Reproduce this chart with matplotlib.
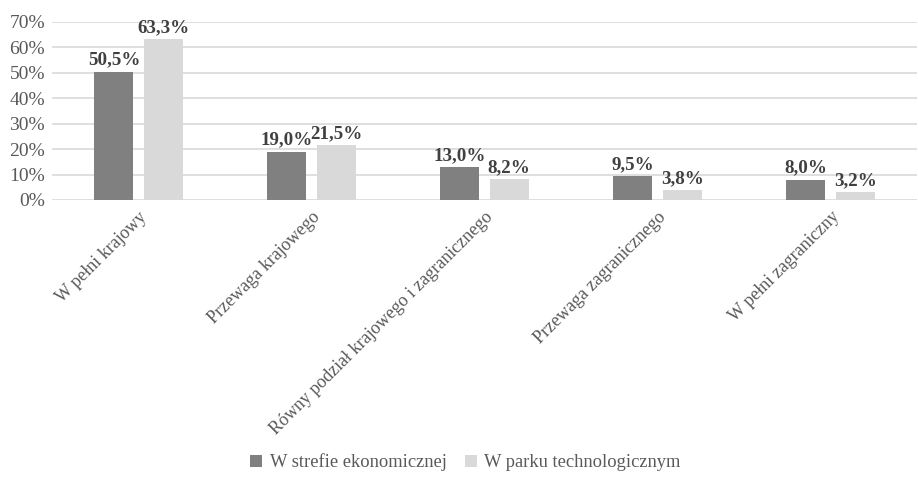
import numpy as np
import matplotlib
matplotlib.use('Agg')
import matplotlib.pyplot as plt
from matplotlib.ticker import PercentFormatter

plt.rcParams['font.family'] = ['Liberation Serif', 'DejaVu Serif']

categories = ['W pełni krajowy', 'Przewaga krajowego',
              'Równy podział krajowego i zagranicznego',
              'Przewaga zagranicznego', 'W pełni zagraniczny']
strefa = [50.5, 19.0, 13.0, 9.5, 8.0]
park = [63.3, 21.5, 8.2, 3.8, 3.2]
series_names = ['W strefie ekonomicznej', 'W parku technologicznym']
colors = ['#808080', '#d9d9d9']

fig = plt.figure(figsize=(9.18, 4.99), dpi=100)
ax = fig.add_axes([52 / 918, 1 - 200 / 499, (917 - 52) / 918, 178 / 499])

x = np.arange(len(categories))
w = 0.225
off = 0.142
for vals, dx, c, name in zip([strefa, park], [-off, off], colors, series_names):
    bars = ax.bar(x + dx, vals, w, color=c, label=name, zorder=2)
    for b, v in zip(bars, vals):
        ax.text(b.get_x() + b.get_width() / 2, v + 1.2,
                f'{v:.1f}%'.replace('.', ','), ha='center', va='bottom',
                fontsize=13.7, fontweight='bold', color='#404040')

ax.set_xlim(-0.5, len(categories) - 0.5)
ax.set_ylim(0, 70)
ax.set_yticks(np.arange(0, 71, 10))
ax.yaxis.set_major_formatter(PercentFormatter(decimals=0))
ax.grid(axis='y', color='#d9d9d9', lw=1.2, zorder=0)
for s in ax.spines.values():
    s.set_visible(False)
ax.tick_params(axis='both', length=0, labelsize=14, colors='#595959')
ax.tick_params(axis='y', pad=5)
ax.set_xticks(x)
ax.set_xticklabels(categories, rotation=45, ha='right', rotation_mode='anchor',
                   fontsize=13, color='#595959')
ax.tick_params(axis='x', pad=6)

fig.legend(loc='lower center', bbox_to_anchor=(0.507, 0.022), ncol=2,
           frameon=False, prop={'family': 'Liberation Serif', 'size': 13.3},
           handlelength=0.65, handleheight=0.65,
           handletextpad=0.4, columnspacing=1.0, labelcolor='#595959')

fig.savefig('out.png', dpi=100)
